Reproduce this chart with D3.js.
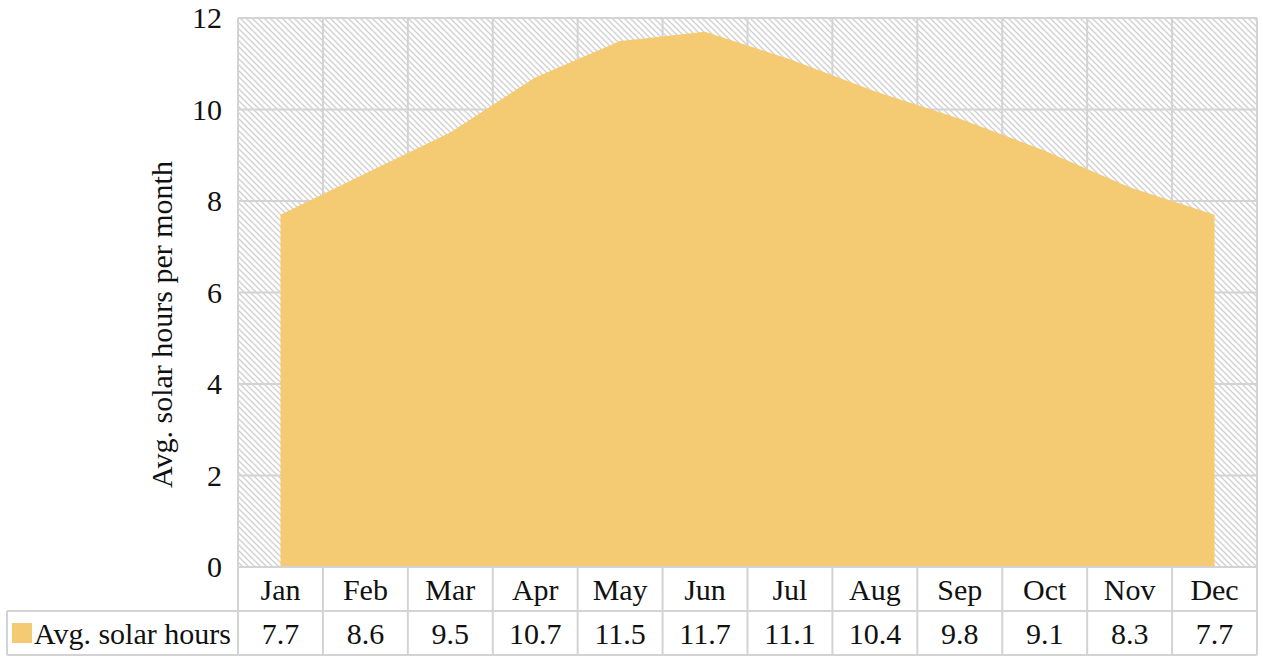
<!DOCTYPE html>
<html>
<head>
<meta charset="utf-8">
<script src="https://cdn.jsdelivr.net/npm/d3@7"></script>
<style>
    body { margin: 0; background: #fff; }
    text { font-family: "Liberation Serif", "Times New Roman", serif; fill: #111; }
</style>
</head>
<body>
<div id="chart"></div>
<script>
const months = ["Jan", "Feb", "Mar", "Apr", "May", "Jun", "Jul", "Aug", "Sep", "Oct", "Nov", "Dec"];
const solarHours = [7.7, 8.6, 9.5, 10.7, 11.5, 11.7, 11.1, 10.4, 9.8, 9.1, 8.3, 7.7];
const yTicks = [0, 2, 4, 6, 8, 10, 12];
const seriesName = "Avg. solar hours";
const yLabel = "Avg. solar hours per month";

const width = 1263;
const height = 663;
const plotLeft = 238, plotRight = 1257, plotTop = 18, plotBottom = 567;
const rowH = 44;
const legendLeft = 7;
const fontSize = "30px";

const fillColor = "#f4cb72";
const gridColor = "#d3d3d3";

const svg = d3.select("#chart").append("svg")
    .attr("width", width)
    .attr("height", height);

// hatch pattern for the plot background
const pat = svg.append("defs").append("pattern")
    .attr("id", "hatch")
    .attr("patternUnits", "userSpaceOnUse")
    .attr("width", 6)
    .attr("height", 6);
pat.append("path")
    .attr("d", "M-1,-1 L7,7 M-4,2 L2,8 M4,-2 L8,2")
    .attr("stroke", "#cfcfcf")
    .attr("stroke-width", 1.3);

const xScale = d3.scaleBand().domain(months).range([plotLeft, plotRight]);
const yScale = d3.scaleLinear().domain([0, 12]).range([plotBottom, plotTop]);

svg.append("rect")
    .attr("x", plotLeft).attr("y", plotTop)
    .attr("width", plotRight - plotLeft).attr("height", plotBottom - plotTop)
    .attr("fill", "url(#hatch)");

// grid lines
svg.append("g")
    .selectAll("line")
    .data(yTicks)
    .enter().append("line")
    .attr("x1", plotLeft).attr("x2", plotRight)
    .attr("y1", d => yScale(d)).attr("y2", d => yScale(d))
    .attr("stroke", gridColor).attr("stroke-width", 2);

const bounds = months.map(m => xScale(m)).concat([plotRight]);
svg.append("g")
    .selectAll("line")
    .data(bounds)
    .enter().append("line")
    .attr("x1", d => d).attr("x2", d => d)
    .attr("y1", plotTop).attr("y2", plotBottom + 2 * rowH)
    .attr("stroke", gridColor).attr("stroke-width", 2);

// area
const area = d3.area()
    .x((d, i) => xScale(months[i]) + xScale.bandwidth() / 2)
    .y0(yScale(0))
    .y1(d => yScale(d));

svg.append("path")
    .datum(solarHours)
    .attr("d", area)
    .attr("fill", fillColor);

// y axis
const yAxis = svg.append("g")
    .attr("transform", `translate(${plotLeft},0)`)
    .call(d3.axisLeft(yScale).tickValues(yTicks).tickSize(0).tickPadding(16));
yAxis.select(".domain").remove();
yAxis.selectAll("text")
    .attr("font-size", fontSize)
    .attr("font-family", "Liberation Serif")
    .attr("fill", "#111");

svg.append("text")
    .attr("transform", `translate(172, ${(plotTop + plotBottom) / 2 + 32}) rotate(-90)`)
    .attr("text-anchor", "middle")
    .attr("font-size", fontSize)
    .text(yLabel);

// data table
const rowTop = plotBottom + rowH;
[plotBottom, rowTop, rowTop + rowH].forEach(y => {
    svg.append("line")
        .attr("x1", y === plotBottom ? plotLeft : legendLeft).attr("x2", plotRight)
        .attr("y1", y).attr("y2", y)
        .attr("stroke", gridColor).attr("stroke-width", 2);
});
svg.append("line")
    .attr("x1", legendLeft).attr("x2", legendLeft)
    .attr("y1", rowTop).attr("y2", rowTop + rowH)
    .attr("stroke", gridColor).attr("stroke-width", 2);

svg.append("g")
    .selectAll("text")
    .data(months)
    .enter().append("text")
    .attr("x", d => xScale(d) + xScale.bandwidth() / 2)
    .attr("y", plotBottom + rowH / 2 + 11)
    .attr("text-anchor", "middle")
    .attr("font-size", fontSize)
    .text(d => d);

svg.append("g")
    .selectAll("text")
    .data(solarHours)
    .enter().append("text")
    .attr("x", (d, i) => xScale(months[i]) + xScale.bandwidth() / 2)
    .attr("y", rowTop + rowH / 2 + 11)
    .attr("text-anchor", "middle")
    .attr("font-size", fontSize)
    .text(d => d.toFixed(1));

// legend key
svg.append("rect")
    .attr("x", 12).attr("y", rowTop + 12)
    .attr("width", 20).attr("height", 20)
    .attr("fill", fillColor);
svg.append("text")
    .attr("x", 34)
    .attr("y", rowTop + rowH / 2 + 11)
    .attr("font-size", fontSize)
    .text(seriesName);
</script>
</body>
</html>
